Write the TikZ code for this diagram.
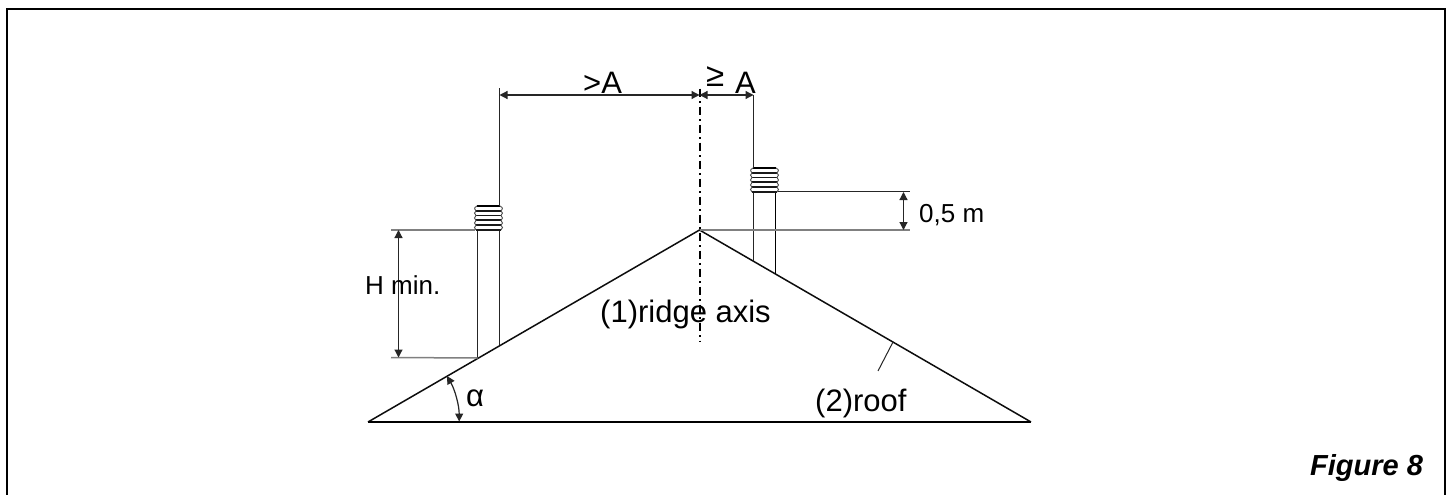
\documentclass[tikz,border=0pt]{standalone}
\usepackage{fontspec}
\setmainfont{Liberation Sans}
\usetikzlibrary{arrows.meta}
\tikzset{
  x=1pt,y=-1pt,
  thin line/.style={line width=1.3pt,draw=black!85},
  gray line/.style={line width=1.5pt,draw=black!50},
  dim/.style={line width=1.2pt,draw=black!85,{Triangle[length=8pt,width=8pt]}-{Triangle[length=8pt,width=8pt]}},
  label/.style={inner sep=0pt,text=black,font=\fontsize{26}{26}\selectfont},
  big/.style={inner sep=0pt,text=black,font=\fontsize{31}{31}\selectfont},
}
\newcommand{\capstack}[2]{%
  \foreach \k in {0,...,4}{
    \draw[line width=1.7pt,black!90] (#1+1,#2-\k*4.7-.3) -- ++(25,0);
  }
  \draw[line width=1.9pt] (#1+2,#2-23.7) -- ++(23,0);
  \draw[line width=.9pt,black!70] (#1+2,#2-24) .. controls (#1-1,#2-22) .. (#1+1,#2-19) .. controls (#1-1,#2-17) .. (#1+1,#2-14.5) .. controls (#1-1,#2-12) .. (#1+1,#2-9.5) .. controls (#1-1,#2-7) .. (#1+1,#2-4.8) .. controls (#1-1,#2-2.5) .. (#1+1,#2);
  \draw[line width=.9pt,black!70] (#1+25,#2-24) .. controls (#1+28,#2-22) .. (#1+26,#2-19) .. controls (#1+28,#2-17) .. (#1+26,#2-14.5) .. controls (#1+28,#2-12) .. (#1+26,#2-9.5) .. controls (#1+28,#2-7) .. (#1+26,#2-4.8) .. controls (#1+28,#2-2.5) .. (#1+26,#2);
}
\begin{document}
\begin{tikzpicture}
\useasboundingbox (0,0) rectangle (1452,495);
\fill[white] (0,0) rectangle (1452,495);
% frame
\draw[line width=2.2pt,black] (7,495) -- (7,9) -- (1445,9) -- (1445,495);
% key points
\coordinate (L) at (368,422);
\coordinate (T) at (699.5,230);
\coordinate (R) at (1031,422);
\coordinate (lcb) at (477.5,358);
\coordinate (lcc) at (499.5,345);
\coordinate (rcb) at (753.5,261);
\coordinate (rcc) at (775.5,274);
% roof
\draw[line width=1.5pt,line join=miter,black!95] (L) -- (T) -- (R);
\draw[line width=2.2pt] (L) -- (R);
% chimneys
\draw[thin line] (lcb) -- (477.5,230);
\draw[thin line] (lcc) -- (499.5,230);
\draw[thin line] (rcb) -- (753.5,192);
\draw[line width=1.7pt,black] (rcc) -- (775.5,192);
\capstack{475}{230}
\capstack{751}{192}
% extension lines
\draw[thin line] (499.5,206) -- (499.5,88);
\draw[thin line] (753.5,168) -- (753.5,95);
\draw[gray line] (391,230) -- (475,230);
\draw[gray line] (391,357.5) -- (lcb);
\draw[thin line] (778,191.5) -- (910,191.5);
\draw[gray line] (T) -- (910,230);
% axis
\draw[line width=2pt,black,dash pattern=on 8.5pt off 4pt on 2pt off 3.5pt] (699.5,88.7) -- (699.5,341);
% dimensions
\draw[dim] (499.5,95) -- (699.5,95);
\draw[dim] (699.5,95) -- (753.5,95);
\draw[dim] (398.5,230) -- (398.5,357.5);
\draw[dim] (903.5,192) -- (903.5,230);
\draw[dim] (447,376) arc[start angle=-30,end angle=0,radius=91];
% leader
\coordinate (rp) at (893,342);
\draw[line width=1pt,black!85] (rp) -- (878,371);
% labels
\node[big,anchor=base west] (la) at (583,93) {>A};
\node[inner sep=0pt,text=black,font=\fontsize{33}{33}\selectfont,anchor=base west] (lb) at (706,87) {≥};
\node[big,anchor=base west] (lc) at (735,93) {A};
\node[label,anchor=base west] (hm) at (365,294) {H min.};
\node[label,anchor=base west] (o5) at (919,222) {0,5 m};
\node[big,anchor=base west] (ra) at (600,322) {(1)ridge axis};
\node[big,anchor=base west] (ro) at (815,411) {(2)roof};
\node[big,anchor=base west] (al) at (466,406) {α};
\node[anchor=base west,inner sep=0pt,font=\fontsize{29}{29}\selectfont\bfseries\itshape] (fg) at (1310,475) {Figure 8};
\end{tikzpicture}
\end{document}
